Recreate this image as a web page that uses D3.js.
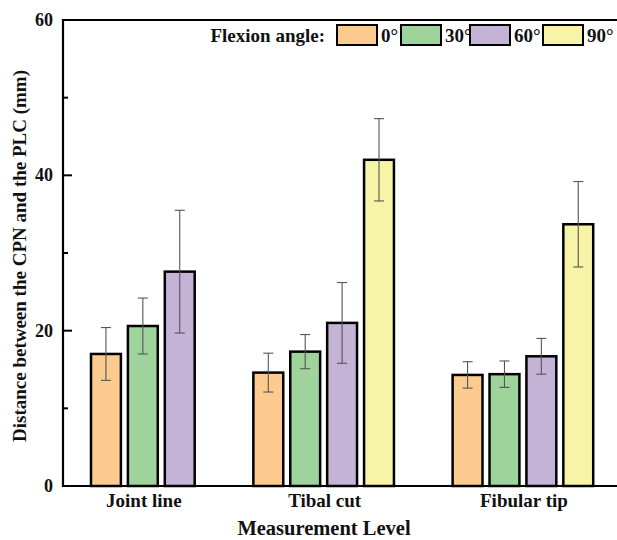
<!DOCTYPE html>
<html>
<head>
<meta charset="utf-8">
<script src="https://cdnjs.cloudflare.com/ajax/libs/d3/7.8.5/d3.min.js"></script>
<style>
  * { margin: 0; padding: 0; }
  body { background: #fff; }
  text { font-family: "Liberation Serif", "Times New Roman", serif; font-weight: bold; fill: #111; }
</style>
</head>
<body>
<div id="chart"></div>
<script>
// data (mean and SD in mm)
var levels = ["Joint line", "Tibal cut", "Fibular tip"];
var angles = ["0°", "30°", "60°", "90°"];
var colors = ["#fdca8f", "#9ed39c", "#c4b3d7", "#f7f4a8"];
var means = [
  [17.0, 20.6, 27.6, null],
  [14.6, 17.3, 21.0, 42.0],
  [14.3, 14.4, 16.7, 33.7]
];
var sds = [
  [3.4, 3.6, 7.9, null],
  [2.5, 2.2, 5.2, 5.3],
  [1.7, 1.7, 2.3, 5.5]
];
var yTicks = [0, 20, 40, 60];
var yMinor = [10, 30, 50];

var W = 617, H = 540;
// note: "top" is a reserved window prop, so use plotTop etc.
var plotLeft = 63, plotTop = 20, plotBottom = 486, plotRight = 640;

var svg = d3.select("#chart").append("svg")
  .attr("width", W).attr("height", H);

var y = d3.scaleLinear().domain([0, 60]).range([plotBottom, plotTop]);

// bars are laid out one after another, with a gap between measurement levels
var groupGap = 1.4;
var bars = [];
var slot = 0;
var groupSpan = [];
levels.forEach(function(lv, i) {
  var first = slot;
  angles.forEach(function(a, j) {
    if (means[i][j] == null) return;
    bars.push({ level: i, angle: j, u: slot, mean: means[i][j], sd: sds[i][j] });
    slot += 1;
  });
  groupSpan.push([first, slot]);
  slot += groupGap;
});
var x = d3.scaleLinear().domain([0, 1]).range([91, 127.9]);
var bw = x(0.81) - x(0);

var g = svg.append("g");

g.selectAll("rect.bar").data(bars).enter().append("rect")
  .attr("class", "bar")
  .attr("x", function(d) { return x(d.u); })
  .attr("width", bw)
  .attr("y", function(d) { return y(d.mean); })
  .attr("height", function(d) { return y(0) - y(d.mean); })
  .attr("fill", function(d) { return colors[d.angle]; })
  .attr("stroke", "#000")
  .attr("stroke-width", 2.5);

// error bars
var eb = g.selectAll("g.err").data(bars).enter().append("g")
  .attr("class", "err")
  .attr("stroke", "#555").attr("stroke-width", 1.1);
eb.append("line")
  .attr("x1", function(d) { return x(d.u) + bw / 2; })
  .attr("x2", function(d) { return x(d.u) + bw / 2; })
  .attr("y1", function(d) { return y(d.mean + d.sd); })
  .attr("y2", function(d) { return y(d.mean - d.sd); });
[1, -1].forEach(function(s) {
  eb.append("line")
    .attr("x1", function(d) { return x(d.u) + bw / 2 - 5; })
    .attr("x2", function(d) { return x(d.u) + bw / 2 + 5; })
    .attr("y1", function(d) { return y(d.mean + s * d.sd); })
    .attr("y2", function(d) { return y(d.mean + s * d.sd); });
});

// frame
svg.append("path")
  .attr("d", "M" + plotRight + "," + plotTop + "H" + plotLeft + "V" + plotBottom + "H" + plotRight)
  .attr("fill", "none").attr("stroke", "#000").attr("stroke-width", 2.2);

// y axis ticks (inward)
svg.selectAll("line.major").data(yTicks).enter().append("line")
  .attr("x1", plotLeft).attr("x2", plotLeft + 9)
  .attr("y1", function(d) { return y(d); }).attr("y2", function(d) { return y(d); })
  .attr("stroke", "#000").attr("stroke-width", 2);
svg.selectAll("line.minor").data(yMinor).enter().append("line")
  .attr("x1", plotLeft).attr("x2", plotLeft + 5)
  .attr("y1", function(d) { return y(d); }).attr("y2", function(d) { return y(d); })
  .attr("stroke", "#000").attr("stroke-width", 2);
svg.selectAll("text.ytick").data(yTicks).enter().append("text")
  .attr("x", plotLeft - 10).attr("y", function(d) { return y(d) + 6; })
  .attr("text-anchor", "end").attr("font-size", 18)
  .text(function(d) { return d; });

// category labels
svg.selectAll("text.cat").data(levels).enter().append("text")
  .attr("x", function(d, i) { return (x(groupSpan[i][0]) + x(groupSpan[i][1] - 1) + bw) / 2 + 1; })
  .attr("y", 507)
  .attr("text-anchor", "middle").attr("font-size", 19)
  .text(function(d) { return d; });

// axis titles
svg.append("text")
  .attr("x", 324).attr("y", 535)
  .attr("text-anchor", "middle").attr("font-size", 20.5)
  .text("Measurement Level");
svg.append("text")
  .attr("transform", "translate(26,256) rotate(-90)")
  .attr("text-anchor", "middle").attr("font-size", 19)
  .text("Distance between the CPN and the PLC (mm)");

// legend
var lg = svg.append("g");
lg.append("text").attr("x", 325).attr("y", 42)
  .attr("text-anchor", "end").attr("font-size", 19)
  .text("Flexion angle:");
var legX = [337, 401, 470, 543];
var items = lg.selectAll("g.item").data(angles).enter().append("g")
  .attr("transform", function(d, i) { return "translate(" + legX[i] + ",25)"; });
items.append("rect")
  .attr("width", 40).attr("height", 20)
  .attr("fill", function(d, i) { return colors[i]; })
  .attr("stroke", "#000").attr("stroke-width", 2);
items.append("text")
  .attr("x", 44).attr("y", 17).attr("font-size", 19)
  .text(function(d) { return d; });
</script>
</body>
</html>
